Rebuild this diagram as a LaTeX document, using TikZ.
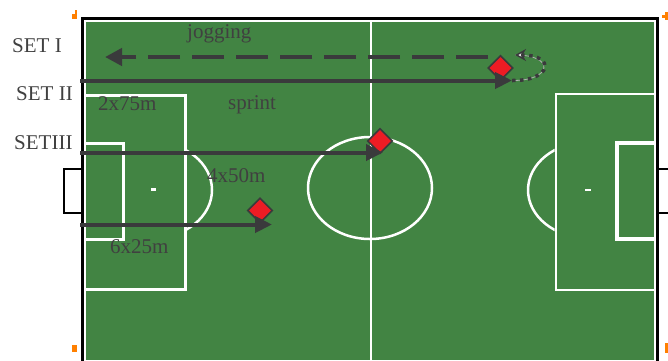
\documentclass[tikz,border=0pt]{standalone}
\usepackage{fontspec}
\setmainfont{Liberation Serif}
\usetikzlibrary{arrows.meta,shapes.geometric}
\definecolor{pitch}{RGB}{66,132,67}
\definecolor{ink}{RGB}{58,58,60}
\definecolor{txt}{RGB}{64,64,64}
\definecolor{conered}{RGB}{237,28,36}
\definecolor{orangemk}{RGB}{255,128,0}
\begin{document}
\begin{tikzpicture}[x=1pt,y=-1pt,
  pitchline/.style={white, line width=2.5pt},
  runarrow/.style={ink, line width=4pt, -{Triangle[length=17pt,width=16pt]}},
  lbl/.style={txt, font=\fontsize{21}{24}\selectfont, inner sep=0pt, anchor=base west},
  cone/.style={diamond, aspect=1, fill=conered, draw=ink, line width=1.6pt,
               minimum width=25pt, minimum height=25pt, inner sep=0pt}]
\useasboundingbox (0,0) rectangle (668,360);

% grass, touchlines and outer frame
\fill[pitch] (86,21) rectangle (654,360);
\draw[white, line width=2.4pt] (85.2,362) -- (85.2,20.6) -- (654.8,20.6) -- (654.8,362);
\draw[black, line width=3.4pt] (82.5,362) -- (82.5,18.5) -- (657.5,18.5) -- (657.5,362);

% goals
\draw[black, line width=2.8pt] (82.5,169) -- (64,169) -- (64,213) -- (82.5,213);
\draw[black, line width=2.8pt] (657.5,169) -- (668,169) (657.5,213) -- (668,213);

% halfway line and centre circle
\draw[pitchline, line width=2.2pt] (371,21) -- (371,360);
\draw[pitchline] (370,188) ellipse [x radius=62, y radius=51];

% left penalty area
\draw[pitchline, line width=3pt] (86,95) -- (185,95) -- (185,289) -- (86,289);
\draw[pitchline, line width=3pt] (86,143) -- (123,143) -- (123,239) -- (86,239);
\fill[white] (151,188) rectangle (156,191);
\begin{scope}
  \clip (187,100) rectangle (260,280);
  \draw[pitchline] (153,190) ellipse [x radius=59, y radius=48];
\end{scope}

% right penalty area
\draw[pitchline] (654,94) -- (556,94) -- (556,290) -- (654,290);
\draw[pitchline, line width=4.5pt] (654,143) -- (617,143) -- (617,239) -- (654,239);
\fill[white] (585,189) rectangle (591,191);
\begin{scope}
  \clip (480,100) rectangle (554.5,280);
  \draw[pitchline] (588,190) ellipse [x radius=60, y radius=48];
\end{scope}

% corner markers
\fill[orangemk] (72,14) rectangle (77,19);
\fill[orangemk] (74.5,10) rectangle (77,14);
\fill[orangemk] (662,15) rectangle (668,18);
\fill[orangemk] (665,12) rectangle (668,20);
\fill[orangemk] (72,345) rectangle (77,352);
\fill[orangemk] (665,343) rectangle (668,353);

% cones
\node[cone] (c1) at (500.5,68) {};
\node[cone] (c2) at (380,141) {};
\node[cone] (c3) at (260,210.5) {};

% run end points
\coordinate (j0) at (488,57);
\coordinate (j1) at (105,57);
\coordinate (s2a) at (80,80.5);
\coordinate (s2b) at (512,80.5);
\coordinate (j2) at (515,55);
\coordinate (s3a) at (80,152.5);
\coordinate (s3b) at (383,152.5);
\coordinate (s4a) at (80,224.5);
\coordinate (s4b) at (272,224.5);

% jogging back (dashed)
\draw[ink, line width=4.2pt, dash pattern=on 32pt off 12pt,
      -{Triangle[length=17pt,width=17pt]}] (j0) -- (j1);

% sprints
\draw[runarrow] (s2a) -- (s2b);
\draw[runarrow] (s3a) -- (s3b);
\draw[runarrow] (s4a) -- (s4b);

% turn round the cone (dotted)
\draw[gray!60, line width=0.8pt] (s2b) .. controls (552,81) and (556,55) .. (j2);
\draw[ink, line width=3.5pt, dash pattern=on 3.5pt off 4.5pt,
      -{Stealth[length=11pt,width=12pt,open,fill=white,line width=1.5pt]}]
      (s2b) .. controls (552,81) and (556,55) .. (j2);

% labels
\node[lbl] (t1) at (12,52) {SET I};
\node[lbl] (t2) at (16,100) {SET II};
\node[lbl] (t3) at (14,149) {SETIII};
\node[lbl] (jog) at (187,38) {jogging};
\node[lbl] (d1) at (98,110) {2x75m};
\node[lbl] (spr) at (228,109) {sprint};
\node[lbl] (d2) at (207,182) {4x50m};
\node[lbl] (d3) at (110,253) {6x25m};
\end{tikzpicture}
\end{document}
